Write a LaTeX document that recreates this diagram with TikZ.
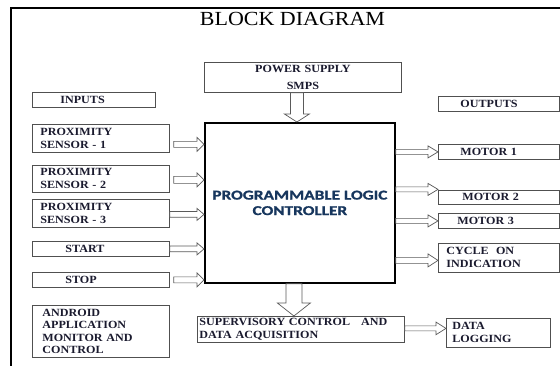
\documentclass[tikz,border=0pt]{standalone}
\usepackage{fontspec}
\setmainfont{Liberation Serif}[FakeStretch=1.1]
\newfontfamily\plcfont{Carlito}[FakeStretch=1.28, BoldFeatures={FakeBold=1.2}]
\usetikzlibrary{calc}
\definecolor{boxgray}{HTML}{505050}
\definecolor{arrowgray}{HTML}{5A5A5A}
\definecolor{txtdark}{HTML}{1A1A2E}
\definecolor{plcblue}{HTML}{17365D}
\newcommand\bxfont{\bfseries\fontsize{11}{13}\selectfont}
\begin{document}
\begin{tikzpicture}[x=1pt,y=-1pt,
  arw/.store in=\arw, arh/.store in=\arh, arl/.store in=\arl,
  arw=3pt, arh=7pt, arl=7pt,
  blk/.style={draw=boxgray, line width=0.8pt, anchor=north west, align=left,
    inner ysep=0pt, font=\bxfont, text=txtdark},
  rarrow/.style={draw=arrowgray, fill=white, line width=0.7pt, to path={
    let \p1=(\tikztostart), \p2=(\tikztotarget) in
    (\x1,\y1+\arw) -- (\x2-\arl,\y1+\arw) -- (\x2-\arl,\y1+\arh) -- (\x2,\y1)
    -- (\x2-\arl,\y1-\arh) -- (\x2-\arl,\y1-\arw) -- (\x1,\y1-\arw) -- cycle}},
  darrow/.style={draw=arrowgray, fill=white, line width=0.7pt, to path={
    let \p1=(\tikztostart), \p2=(\tikztotarget) in
    (\x1-\arw,\y1) -- (\x1-\arw,\y2+\arl) -- (\x1-\arh,\y2+\arl) -- (\x1,\y2)
    -- (\x1+\arh,\y2+\arl) -- (\x1+\arw,\y2+\arl) -- (\x1+\arw,\y1) -- cycle}},
  inarrow/.style={rarrow, arw=3pt, arh=7pt, arl=7pt},
  outarrow/.style={rarrow, arw=2.5pt, arh=6pt, arl=10pt}
]
\useasboundingbox (0,0) rectangle (560,366);
% outer frame
\draw[line width=2pt] (11,367) -- (11,8) -- (561,8);
% title
\node[anchor=base, font=\fontsize{20}{24}\selectfont, text=black] (title) at (292.5,26) {BLOCK DIAGRAM};
% boxes
\node[blk, align=center, minimum width=197pt, minimum height=30pt, text width=185pt, inner xsep=6pt,
  font=\bfseries\fontsize{11}{17}\selectfont] (pow) at (204,62) {POWER SUPPLY\\SMPS};
\node[blk, minimum width=123pt, minimum height=15pt, text width=67pt, inner xsep=28pt] (inp) at (32,92) {INPUTS};
\node[blk, minimum width=121pt, minimum height=15pt, text width=77pt, inner xsep=22pt] (outp) at (438,96) {OUTPUTS};
\node[draw=black, line width=1.8pt, anchor=north west, minimum width=190pt, minimum height=160pt,
  align=center, text=plcblue, font=\plcfont\bfseries\fontsize{13.5}{15.5}\selectfont] (plc) at (204,122)
  {PROGRAMMABLE LOGIC\\CONTROLLER};
\node[blk, minimum width=137pt, minimum height=28pt, text width=121pt, inner xsep=8pt] (s1) at (32,124) {PROXIMITY\\SENSOR - 1};
\node[blk, minimum width=137pt, minimum height=27pt, text width=121pt, inner xsep=8pt] (s2) at (32,165) {PROXIMITY\\SENSOR - 2};
\node[blk, minimum width=137pt, minimum height=28pt, text width=121pt, inner xsep=8pt] (s3) at (32,199) {PROXIMITY\\SENSOR - 3};
\node[blk, minimum width=137pt, minimum height=15pt, text width=71pt, inner xsep=33pt] (start) at (32,241) {START};
\node[blk, minimum width=137pt, minimum height=15pt, text width=71pt, inner xsep=33pt] (stop) at (32,272) {STOP};
\node[blk, minimum width=137pt, minimum height=52pt, text width=117pt, inner xsep=10pt,
  font=\bfseries\fontsize{11}{12.3}\selectfont] (andr) at (32,305) {ANDROID\\APPLICATION\\MONITOR AND\\CONTROL};
\node[blk, minimum width=121pt, minimum height=15pt, text width=77pt, inner xsep=22pt] (m1) at (438,144) {MOTOR 1};
\node[blk, minimum width=121pt, minimum height=14pt, text width=73pt, inner xsep=24pt] (m2) at (438,190) {MOTOR 2};
\node[blk, minimum width=121pt, minimum height=15pt, text width=83pt, inner xsep=19pt] (m3) at (438,213) {MOTOR 3};
\node[blk, minimum width=121pt, minimum height=29pt, text width=105pt, inner xsep=8pt] (cyc) at (438,243) {CYCLE\ \ ON\\INDICATION};
\node[blk, minimum width=207pt, minimum height=26pt, text width=203pt, inner xsep=2pt] (scada) at (197,316) {SUPERVISORY CONTROL\ \ \ AND\\DATA ACQUISITION};
\node[blk, minimum width=104pt, minimum height=29pt, text width=92pt, inner xsep=6pt] (dlog) at (446,318) {DATA\\LOGGING};
% arrow anchor points
\coordinate (a0) at ([xshift=-6pt]pow.south);
\coordinate (a1) at ([xshift=4pt,yshift=-6pt]s1.east);
\coordinate (a2) at ([xshift=4pt,yshift=-1pt]s2.east);
\coordinate (a3) at ([yshift=-1pt]s3.east);
\coordinate (a4) at (start.east);
\coordinate (a5) at ([xshift=4pt]stop.east);
\coordinate (b1) at (plc.east |- m1.west);
\coordinate (b2) at ([yshift=8pt]plc.east |- m2.west);
\coordinate (b3) at (plc.east |- m3.west);
\coordinate (b4) at ([yshift=-2.5pt]plc.east |- cyc.west);
\coordinate (c0) at ([xshift=-6pt]plc.south);
\coordinate (c1) at ([yshift=1pt]scada.east);
% arrows
\draw[darrow, arw=6.5pt, arh=12.5pt, arl=8pt] (a0) to (a0 |- plc.north);
\draw[darrow, arw=8pt, arh=16.5pt, arl=13pt] (c0) to (c0 |- scada.north);
\draw[inarrow] (a1) to (a1 -| plc.west);
\draw[inarrow, arw=3.5pt] (a2) to (a2 -| plc.west);
\draw[inarrow, arw=2.8pt, arh=6pt] (a3) to (a3 -| plc.west);
\draw[inarrow, arw=2.8pt, arh=6pt] (a4) to (a4 -| plc.west);
\draw[inarrow] (a5) to (a5 -| plc.west);
\draw[outarrow] (b1) to (b1 -| m1.west);
\draw[outarrow] (b2) to (b2 -| m2.west);
\draw[outarrow] (b3) to (b3 -| m3.west);
\draw[outarrow, arw=3pt, arh=6.5pt] (b4) to (b4 -| cyc.west);
\draw[outarrow, arw=2.5pt, arh=6.3pt] (c1) to (c1 -| dlog.west);
\end{tikzpicture}
\end{document}
